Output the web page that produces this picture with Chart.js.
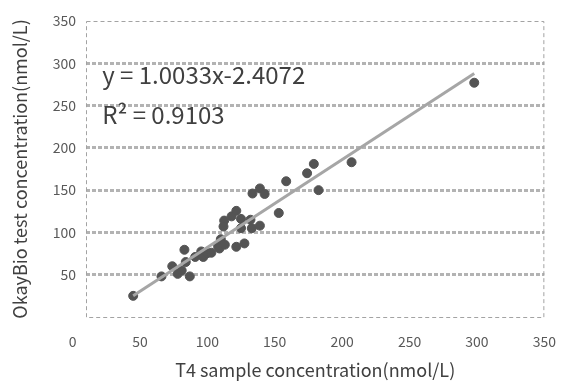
<!DOCTYPE html>
<html>
<head>
<meta charset="utf-8">
<script src="https://cdn.jsdelivr.net/npm/chart.js@4/dist/chart.umd.min.js"></script>
<style>
  body { margin: 0; background: #fff; }
  #wrap { width: 564px; height: 388px; }
</style>
</head>
<body>
<div id="wrap"><canvas id="chart" width="564" height="388"></canvas></div>
<script>
// T4 sample concentration vs OkayBio test concentration (nmol/L)
const sampleX = [45, 66, 74, 78, 81, 83, 84, 87, 91, 95.5, 97, 100, 103, 108, 109, 110, 113, 112.5, 112,
    118, 121.5, 121.5, 125, 125, 127.5, 132, 133, 139, 133.5, 139, 142.5, 153, 158.5, 174, 179, 182.5, 207, 298]
const testY = [25, 48, 60, 51, 55, 79.5, 65, 48, 71, 77.5, 71, 75.5, 76, 83.5, 81, 92, 85.5, 114, 107,
    119, 125.5, 83, 116, 105, 87, 115, 105, 108, 146, 152, 145.5, 123, 160.5, 170, 181, 150, 183, 277]

// trend line ends as drawn
const fitX = [45, 298]
const fitY = [25, 288]

const xTicks = [0, 50, 100, 150, 200, 250, 300, 350]
const yTicks = [0, 50, 100, 150, 200, 250, 300, 350]

const equation = 'y = 1.0033x-2.4072'
const rSquared = 'R² = 0.9103'

const fontFamily = '"Noto Sans CJK SC", "Noto Sans", sans-serif'
Chart.defaults.font.family = fontFamily

const boxPlugin = {
    id: 'box',
    beforeDatasetsDraw(chart) {
        const {ctx, chartArea: a} = chart
        ctx.save()
        ctx.strokeStyle = '#a3a3a3'
        ctx.lineWidth = 1
        ctx.setLineDash([4, 3])
        ctx.strokeRect(a.left + 0.5, a.top + 0.5, a.right - a.left - 1, a.bottom - a.top)
        ctx.restore()
    },
    afterDraw(chart) {
        const {ctx, scales} = chart
        ctx.save()
        ctx.fillStyle = '#404040'
        ctx.font = '24px ' + fontFamily
        ctx.textBaseline = 'middle'
        ctx.textAlign = 'left'
        const x0 = scales.x.getPixelForValue(22)
        ctx.fillText(equation, x0, scales.y.getPixelForValue(286))
        ctx.fillText(rSquared, x0, scales.y.getPixelForValue(239))
        ctx.restore()
    }
}

const points = sampleX.map((x, i) => ({x: x, y: testY[i]}))
const fit = fitX.map((x, i) => ({x: x, y: fitY[i]}))

new Chart(document.getElementById('chart'), {
    type: 'scatter',
    data: {
        datasets: [
            {
                type: 'line',
                label: 'fit',
                data: fit,
                borderColor: '#a6a6a6',
                borderWidth: 3,
                pointRadius: 0,
                order: 0
            },
            {
                label: 'samples',
                data: points,
                backgroundColor: '#545454',
                borderColor: '#545454',
                pointRadius: 4.5,
                order: 1
            }
        ]
    },
    options: {
        responsive: false,
        animation: false,
        devicePixelRatio: 1,
        layout: { padding: { top: 21, right: 19, left: 0, bottom: 0 } },
        plugins: {
            legend: { display: false },
            tooltip: { enabled: false }
        },
        scales: {
            x: {
                type: 'linear',
                min: 10,
                max: 350,
                afterBuildTicks: s => { s.ticks = xTicks.map(v => ({value: v})) },
                afterFit: s => { s.height = 71 },
                grid: { display: false },
                border: { display: false },
                ticks: {
                    autoSkip: false,
                    padding: 8,
                    color: '#595959',
                    font: { size: 14 }
                },
                title: {
                    display: true,
                    text: 'T4 sample concentration(nmol/L)',
                    color: '#404040',
                    font: { size: 18 },
                    padding: { top: 0, bottom: 7 }
                }
            },
            y: {
                type: 'linear',
                min: 0,
                max: 350,
                afterBuildTicks: s => { s.ticks = yTicks.map(v => ({value: v})) },
                afterFit: s => { s.width = 86 },
                grid: {
                    drawTicks: false,
                    // the box plugin draws the top and bottom edges
                    color: c => (c.tick.value === 0 || c.tick.value === 350) ? 'rgba(0,0,0,0)' : '#b3b3b3',
                    lineWidth: 3
                },
                border: { display: false, dash: [4, 2] },
                ticks: {
                    padding: 10,
                    color: '#595959',
                    font: { size: 14 },
                    callback: v => v === 0 ? '' : v
                },
                title: {
                    display: true,
                    text: 'OkayBio test concentration(nmol/L)',
                    color: '#404040',
                    font: { size: 18 },
                    padding: { top: 9, bottom: 0 }
                }
            }
        }
    },
    plugins: [boxPlugin]
})
</script>
</body>
</html>
